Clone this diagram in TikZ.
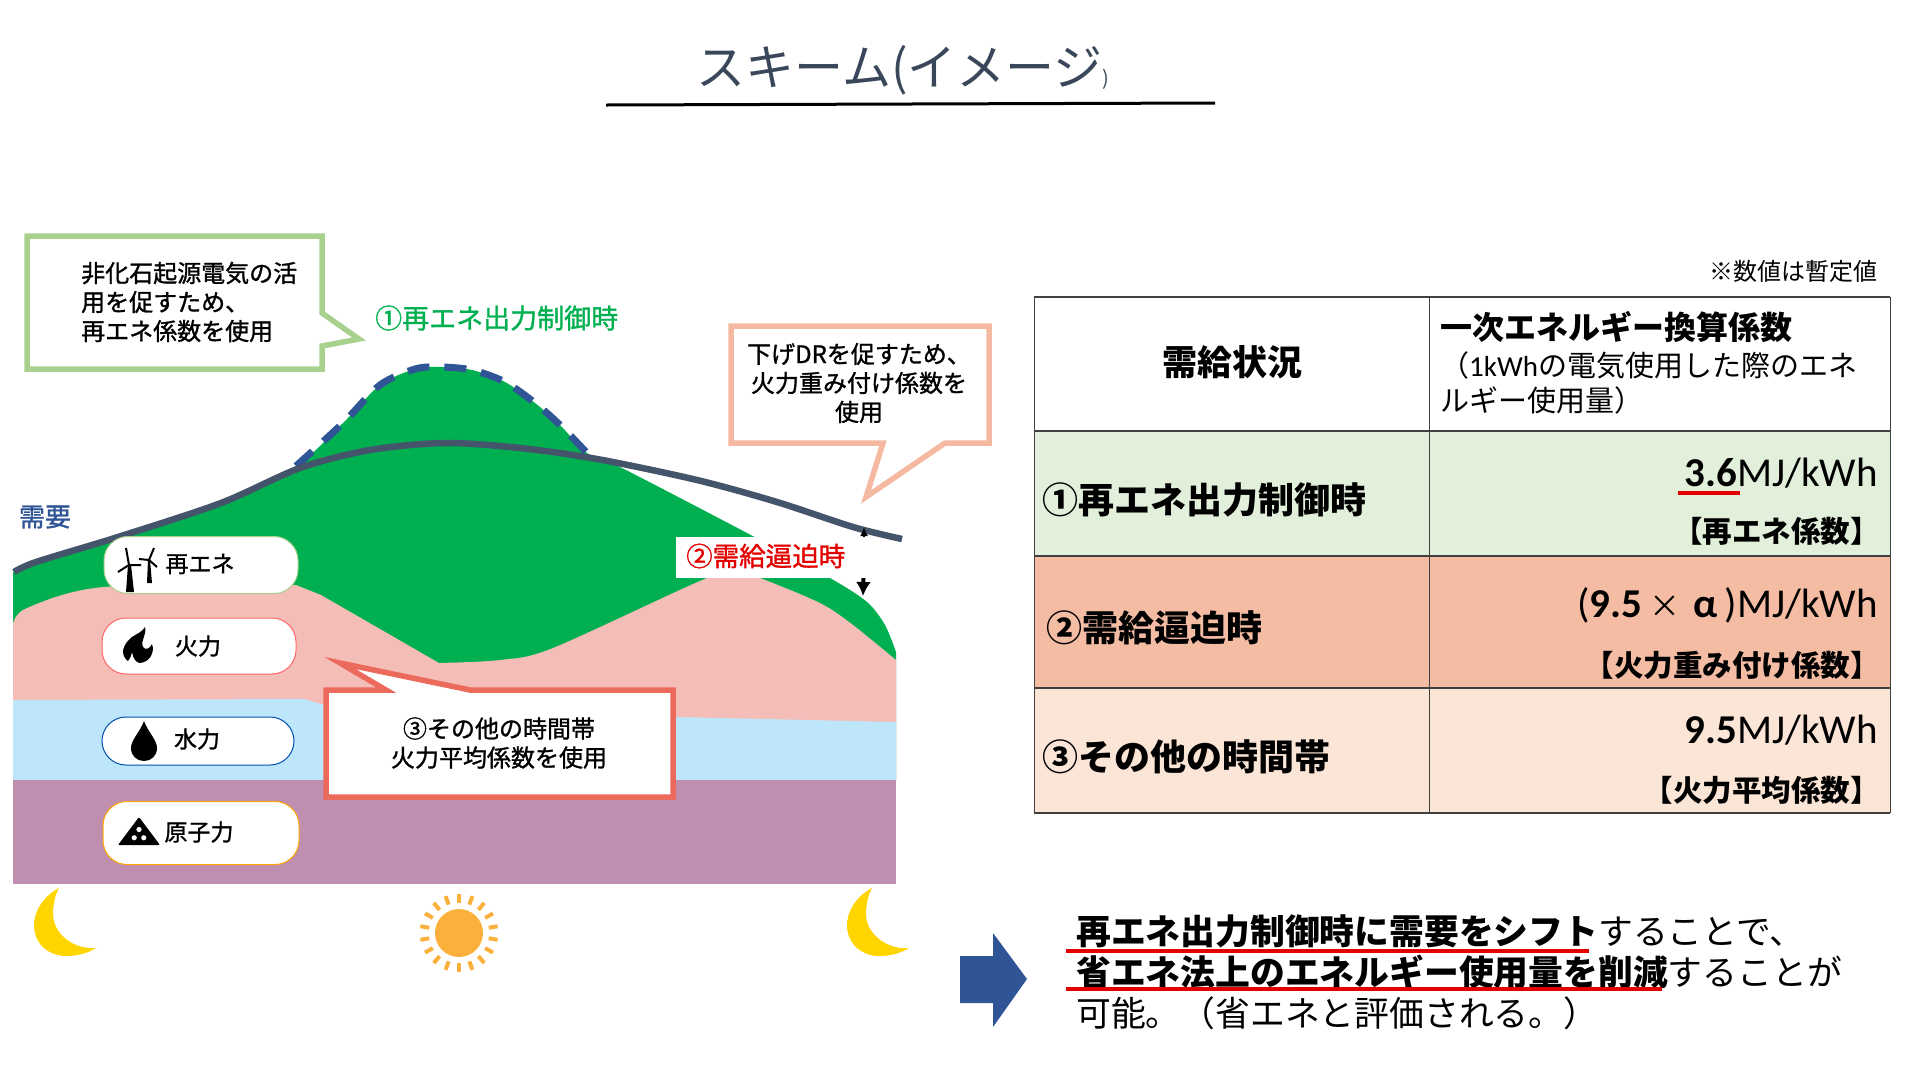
\documentclass[tikz,border=0pt]{standalone}
\usepackage{fontspec}
\setmainfont{Noto Sans CJK JP}
\newfontfamily\latn{Carlito}
\newfontfamily\jpmed[FakeBold=1.2]{Noto Sans CJK JP}
\usetikzlibrary{arrows.meta}
\definecolor{slate}{HTML}{44546A}
\definecolor{navy}{HTML}{2F5597}
\definecolor{cgreen}{HTML}{00B050}
\definecolor{cpink}{HTML}{F5BDB7}
\definecolor{cblue}{HTML}{BDE6FB}
\definecolor{cpurple}{HTML}{C08EAE}
\definecolor{bgreen}{HTML}{A9D18E}
\definecolor{bpink}{HTML}{F4B9A0}
\definecolor{bred}{HTML}{EC6A5C}
\definecolor{rowa}{HTML}{E2EFDA}
\definecolor{rowb}{HTML}{F5BCA4}
\definecolor{rowc}{HTML}{FBE5D6}
\definecolor{csun}{HTML}{FBB03B}
\definecolor{cmoon}{HTML}{FFD500}

\begin{document}
\begin{tikzpicture}[x=1pt,y=-1pt,
  txt/.style={inner sep=0,font=\fontsize{#1}{#1}\selectfont},
  med/.style={inner sep=0,font=\fontsize{#1}{#1}\jpmed\selectfont},
  lbl/.style={inner sep=0,align=center,font=\fontsize{24}{29}\jpmed\selectfont},
  head/.style={inner sep=0,font=\fontsize{#1}{#1}\bfseries\selectfont},
  val/.style={inner sep=0,anchor=east,font=\fontsize{41}{41}\latn\selectfont},
  tag/.style={inner sep=0,anchor=east,font=\fontsize{29.5}{29.5}\bfseries\selectfont},
  pill/.style={draw=#1,fill=white,line width=1pt,rounded corners=24pt,minimum height=52pt},
  callout/.style={draw=#1,fill=white,line width=5.5pt,miter limit=20},
  redline/.style={draw=red!90!black,line width=4pt},
  ray/.style={draw=csun,line width=4pt}]
\useasboundingbox (0,0) rectangle (1920,1080);

% title
\node[txt=49,text=slate!85!black] (title) at (903,70) {スキーム(イメージ\fontsize{20}{20}\selectfont)};
\coordinate (tl) at (606,105); \coordinate (tr) at (1215,103);
\draw[line width=3pt] (tl)--(tr);

% generation stack
\fill[cgreen] plot[smooth] coordinates {(13,572) (36,562) (118,537) (221,502) (296,466) (343,423) (380,385) (415,369) (440,367) (472,370) (505,382) (535,403) (560,425) (587,453) (620,467) (747,533) (830,578) (867,602) (885,625) (896,652)} -- (896,780) -- (13,780) -- cycle;
\fill[cpink] plot[smooth] coordinates {(13,624) (27,608) (104,587) (296,585)} -- (321,595) -- (439,663) -- plot[smooth] coordinates {(439,663) (500,660) (553,648) (707,578) (740,573) (760,578) (820,603) (853,625) (896,660)} -- (896,780) -- (13,780) -- cycle;
\fill[cblue] (13,700) -- (304,699) -- (321,704) -- (676,717) -- (896,722) -- (896,780) -- (13,780) -- cycle;
\fill[cpurple] (13,780) rectangle (896,884);

% demand curves
\draw[navy,line width=7pt,dash pattern=on 22pt off 15pt] plot[smooth] coordinates {(296,466) (343,423) (380,385) (415,369) (440,367) (472,370) (505,382) (535,403) (560,425) (587,453)};
\draw[slate,line width=6.5pt] plot[smooth] coordinates {(14,572) (36,562) (118,537) (221,503) (300,468) (370,450) (445,443) (520,448) (597,459) (697,480) (777,502) (853,527) (902,539)};
\node[med=26,text=navy] (demand) at (45,517) {需要};

% pills
\node[pill=bgreen,minimum width=194pt,minimum height=57pt] (pre) at (201,565) {};
\node[pill=red!60,minimum width=194pt,minimum height=56pt] (pth) at (199,646) {};
\node[pill=blue!55!cyan!70!black,minimum width=192pt,minimum height=48pt] (phy) at (198,741) {};
\node[pill=orange!70!yellow,minimum width=196pt,minimum height=63pt] (pnu) at (201,833) {};
\node[med=23] (tre) at (200,564) {再エネ};
\node[med=23] (tth) at (198,646) {火力};
\node[med=23] (thy) at (197,739) {水力};
\node[med=23] (tnu) at (199,832) {原子力};

% icons
\fill (126,592)--(128,565)--(131,565)--(134,592)--cycle;
\fill (147,583)--(148,560)--(150,560)--(152,583)--cycle;
\draw[line width=2pt] (126,548)--(129,565) (118,572)--(129,565) (141,565)--(129,565);
\draw[line width=2pt] (154,548)--(149,560) (139,559)--(149,560) (157,567)--(149,560);
\fill (145,627) .. controls (147,636) and (140,640) .. (143,647) .. controls (146,651) and (150,648) .. (152,644) .. controls (155,652) and (150,662) .. (140,663) .. controls (136,663) and (133,658) .. (132,652) .. controls (131,656) and (130,659) .. (128,661) .. controls (120,655) and (122,645) .. (132,637) .. controls (138,633) and (142,632) .. cycle;
\fill (144,721) .. controls (148,732) and (157,740) .. (157,748) .. controls (157,756) and (151,761) .. (144,761) .. controls (137,761) and (131,756) .. (131,748) .. controls (131,740) and (140,732) .. cycle;
\fill[rounded corners=1pt] (118,845)--(139,817)--(160,845)--cycle;
\foreach \a in {90,210,330}{ \fill[white] (139,835) ++(\a:5.5pt) circle (2.6pt); }

% callouts
\draw[callout=bgreen] (27,236) -- (322,236) -- (322,313) -- (359,339) -- (322,346) -- (322,369) -- (27,369) -- cycle;
\node[lbl,align=left,anchor=west] (cg) at (81,302) {非化石起源電気の活\\用を促すため、\\再エネ係数を使用};
\draw[callout=bpink] (731,326) -- (989,326) -- (989,443) -- (945,443) -- (866,497) -- (883,443) -- (731,443) -- cycle;
\node[lbl] (cp) at (859,383) {下げDRを促すため、\\火力重み付け係数を\\使用};
\draw[callout=bred] (326,690) -- (386,690) -- (340,663) -- (470,690) -- (673,690) -- (673,797) -- (326,797) -- cycle;
\node[lbl] (cr) at (499,743) {③その他の時間帯\\火力平均係数を使用};
\node[med=27,text=cgreen,anchor=west] (lg) at (375,318) {①再エネ出力制御時};

% tight supply marker
\coordinate (am) at (864,560); \coordinate (au) at (864,527); \coordinate (ad) at (863,596);
\draw[line width=2pt,-{Latex[length=9pt,width=8pt]}] (am)--(au);
\draw[line width=4pt,-{Latex[length=14pt,width=15pt]}] (am)--(ad);
\fill[white] (676,537) rectangle (870,578);
\node[med=26.5,text=red!90!black,anchor=west] (lr) at (686,556) {②需給逼迫時};

% sun and moons
\foreach \dx in {0,813}{
  \fill[cmoon,xshift=\dx pt] (59,888) .. controls (40,898) and (34,915) .. (34,925) .. controls (34,945) and (50,956) .. (66,956) .. controls (78,956) and (88,953) .. (96,948) .. controls (75,950) and (54,935) .. (53,915) .. controls (53,905) and (55,895) .. cycle;
}
\node[circle,fill=csun,minimum size=48pt,inner sep=0] (sun) at (459,933) {};
\foreach \a in {10,30,...,350}{ \draw[ray] (sun.\a) ++(\a:6pt) -- ++(\a:9pt); }

% table
\foreach \ya/\yb/\c in {431/556/rowa,556/688/rowb,688/813/rowc}{ \fill[\c] (1034,\ya) rectangle (1890,\yb); }
\foreach \y in {297,431,556,688,813}{ \draw[line width=1.5pt,black!75] (1034,\y)--(1890,\y); }
\foreach \x in {1034,1429,1890}{ \draw[line width=1pt,black!75] (\x,297)--(\x,813); }
\node[txt=24,anchor=east] (note) at (1878,271) {※数値は暫定値};
\node[head=35] (h1) at (1232,362) {需給状況};
\node[head=32,anchor=west] (h2) at (1440,327) {一次エネルギー換算係数};
\node[txt=29,anchor=west] (h3) at (1440,365) {（{\latn 1kWh}の電気使用した際のエネ};
\node[txt=29,anchor=west] (h4) at (1440,400) {ルギー使用量）};
\node[head=36,anchor=west] (ra) at (1042,500) {①再エネ出力制御時};
\node[head=36,anchor=west] (rb) at (1046,628) {②需給逼迫時};
\node[head=36,anchor=west] (rc) at (1042,757) {③その他の時間帯};
\node[val] (va) at (1878,473) {\textbf{3.6}MJ/kWh};
\node[val] (vb) at (1878,605) {(\textbf{9.5}\,{\rmfamily\fontsize{31}{31}\selectfont ×}\textbf{\,\,α\,})MJ/kWh};
\node[val] (vc) at (1878,730) {\textbf{9.5}MJ/kWh};
\node[tag] (ta) at (1880,531) {【再エネ係数】};
\node[tag] (tb) at (1880,665) {【火力重み付け係数】};
\node[tag] (tc) at (1880,790) {【火力平均係数】};
\coordinate (ua) at (1678,493); \coordinate (ub) at (1740,493);
\draw[redline] (ua)--(ub);

% conclusion
\fill[navy] (960,956)--(993,956)--(993,933)--(1027,979)--(993,1027)--(993,1003)--(960,1003)--cycle;
\node[inner sep=0,anchor=west,align=left,font=\fontsize{34.8}{41}\selectfont] (res) at (1076,972) {\textbf{再エネ出力制御時に需要をシフト}することで、\\\textbf{省エネ法上のエネルギー使用量を削減}することが\\可能。（省エネと評価される。）};
\coordinate (la) at (1066,951); \coordinate (lb) at (1589,951);
\coordinate (lc) at (1066,989); \coordinate (ld) at (1662,989);
\draw[redline] (la)--(lb) (lc)--(ld);
\end{tikzpicture}
\end{document}
